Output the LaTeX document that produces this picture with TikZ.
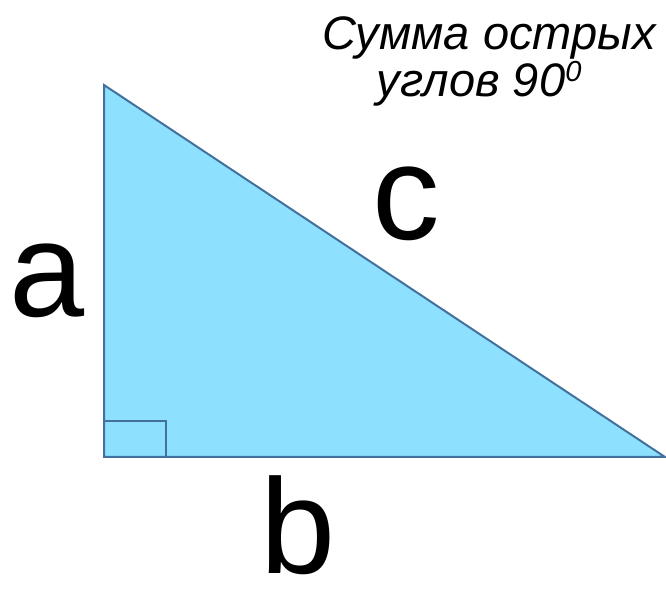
\documentclass[tikz,border=0pt]{standalone}
\usepackage{fontspec}
\setmainfont{Liberation Sans}
\usepackage{tikz}
\definecolor{triFill}{RGB}{142,224,255}
\definecolor{triLine}{RGB}{65,113,156}
\newcommand{\corFill}{triFill}
\newcommand{\corLine}{triLine}
\tikzset{
  letra/.style={anchor=base, inner sep=0pt, text depth=0pt, font=\fontsize{135}{135}\selectfont},
  titulo/.style={anchor=base, inner sep=0pt, font=\itshape\fontsize{47}{47}\selectfont}
}

\begin{document}
\begin{tikzpicture}[x=1pt, y=1pt]
    \useasboundingbox (0,0) rectangle (666,589);

          % vertices
        \coordinate (topo) at (104,504);
        \coordinate (reto) at (104,132);
        \coordinate (dir) at (665,132);

          % triangulo
        \filldraw [fill=\corFill, draw=\corLine, line width=2pt, line join=miter] (topo) -- (reto) -- (dir) -- cycle;

          % angulo reto
        \draw [\corLine, line width=2pt] (reto) rectangle (166,168);

          % lados
        \node[letra] (ladoA) at (47,272) {a};
        \node[letra] (ladoC) at (406,349) {c};
        \node[letra] (ladoB) at (298,16) {b};

          % soma dos angulos
        \node[titulo] (soma1) at (489,539) {Сумма острых};
        \node[titulo] (soma2) at (479,492) {углов 90\raisebox{15pt}{\fontsize{29}{29}\selectfont 0}};
\end{tikzpicture}
\end{document}
